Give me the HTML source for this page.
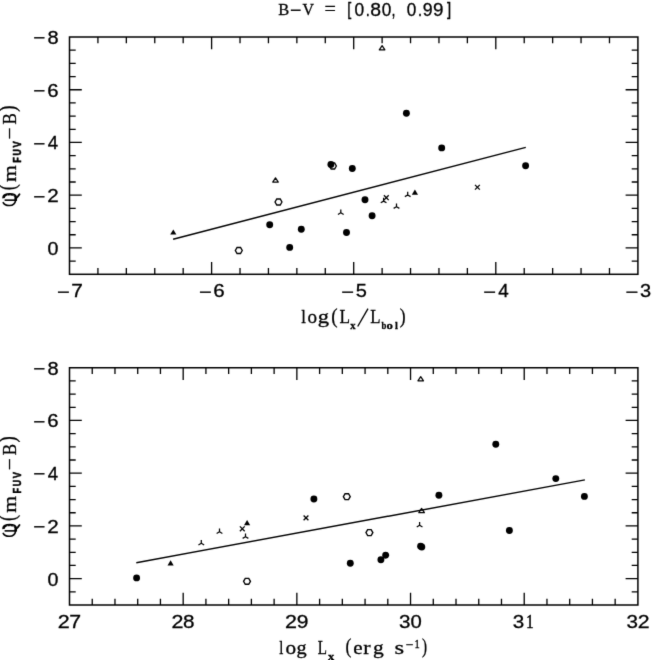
<!DOCTYPE html>
<html><head><meta charset="utf-8"><style>
html,body{margin:0;padding:0;background:#fff;}
body{width:652px;height:660px;overflow:hidden;}
svg{display:block;}
text{fill:#000;}
svg{-webkit-font-smoothing:antialiased;}
#w{will-change:transform;width:652px;height:660px;}
</style></head><body><div id="w">
<svg width="652" height="660" viewBox="0 0 652 660">
<defs><filter id="bl" x="0" y="0" width="652" height="660" filterUnits="userSpaceOnUse"><feConvolveMatrix order="3" kernelMatrix="0.0100 0.0800 0.0100 0.0800 0.6400 0.0800 0.0100 0.0800 0.0100" edgeMode="duplicate" preserveAlpha="false"/></filter></defs>
<rect width="652" height="660" fill="#fff"/>
<g filter="url(#bl)">
<text transform="translate(278.13,15.30) scale(0.968,1)" font-family="Liberation Serif" font-weight="normal" font-size="17.00" stroke="#000" stroke-width="0.3">B</text>
<text transform="translate(290.05,15.60) scale(1.087,1)" font-family="Liberation Sans" font-weight="normal" font-size="17.80" stroke="#000" stroke-width="0.3">−</text>
<text transform="translate(302.62,15.30) scale(0.933,1)" font-family="Liberation Serif" font-weight="normal" font-size="17.00" stroke="#000" stroke-width="0.3">V</text>
<text transform="translate(324.49,15.20) scale(1.135,1)" font-family="Liberation Serif" font-weight="normal" font-size="17.80" stroke="#000" stroke-width="0.3">=</text>
<text transform="translate(347.26,15.40) scale(0.820,1)" font-family="Liberation Sans" font-weight="normal" font-size="17.80" stroke="#000" stroke-width="0.3">[</text>
<text transform="translate(354.42,15.70) scale(0.975,1)" font-family="Liberation Sans" font-weight="normal" font-size="17.80" stroke="#000" stroke-width="0.3">0</text>
<text transform="translate(365.76,15.70) scale(0.826,1)" font-family="Liberation Sans" font-weight="normal" font-size="17.80" stroke="#000" stroke-width="0.3">.</text>
<text transform="translate(370.36,15.70) scale(1.090,1)" font-family="Liberation Sans" font-weight="normal" font-size="17.80" stroke="#000" stroke-width="0.3">8</text>
<text transform="translate(381.83,15.70) scale(0.964,1)" font-family="Liberation Sans" font-weight="normal" font-size="17.80" stroke="#000" stroke-width="0.3">0</text>
<text transform="translate(391.62,15.70) scale(0.801,1)" font-family="Liberation Sans" font-weight="normal" font-size="17.80" stroke="#000" stroke-width="0.3">,</text>
<text transform="translate(406.83,15.70) scale(0.964,1)" font-family="Liberation Sans" font-weight="normal" font-size="17.80" stroke="#000" stroke-width="0.3">0</text>
<text transform="translate(418.06,15.70) scale(0.826,1)" font-family="Liberation Sans" font-weight="normal" font-size="17.80" stroke="#000" stroke-width="0.3">.</text>
<text transform="translate(422.77,15.70) scale(0.997,1)" font-family="Liberation Sans" font-weight="normal" font-size="17.80" stroke="#000" stroke-width="0.3">9</text>
<text transform="translate(433.12,15.70) scale(1.058,1)" font-family="Liberation Sans" font-weight="normal" font-size="17.80" stroke="#000" stroke-width="0.3">9</text>
<text transform="translate(446.98,15.40) scale(0.848,1)" font-family="Liberation Sans" font-weight="normal" font-size="17.80" stroke="#000" stroke-width="0.3">]</text>
<path d="M97.92,274.30v-6.2M97.92,37.00v6.2M126.34,274.30v-6.2M126.34,37.00v6.2M154.76,274.30v-6.2M154.76,37.00v6.2M183.18,274.30v-6.2M183.18,37.00v6.2M211.60,274.30v-12.3M211.60,37.00v12.3M240.02,274.30v-6.2M240.02,37.00v6.2M268.44,274.30v-6.2M268.44,37.00v6.2M296.86,274.30v-6.2M296.86,37.00v6.2M325.28,274.30v-6.2M325.28,37.00v6.2M353.70,274.30v-12.3M353.70,37.00v12.3M382.12,274.30v-6.2M382.12,37.00v6.2M410.54,274.30v-6.2M410.54,37.00v6.2M438.96,274.30v-6.2M438.96,37.00v6.2M467.38,274.30v-6.2M467.38,37.00v6.2M495.80,274.30v-12.3M495.80,37.00v12.3M524.22,274.30v-6.2M524.22,37.00v6.2M552.64,274.30v-6.2M552.64,37.00v6.2M581.06,274.30v-6.2M581.06,37.00v6.2M609.48,274.30v-6.2M609.48,37.00v6.2M69.50,50.18h6.2M637.90,50.18h-6.2M69.50,63.37h6.2M637.90,63.37h-6.2M69.50,76.55h6.2M637.90,76.55h-6.2M69.50,89.73h12.3M637.90,89.73h-12.3M69.50,102.92h6.2M637.90,102.92h-6.2M69.50,116.10h6.2M637.90,116.10h-6.2M69.50,129.28h6.2M637.90,129.28h-6.2M69.50,142.47h12.3M637.90,142.47h-12.3M69.50,155.65h6.2M637.90,155.65h-6.2M69.50,168.83h6.2M637.90,168.83h-6.2M69.50,182.02h6.2M637.90,182.02h-6.2M69.50,195.20h12.3M637.90,195.20h-12.3M69.50,208.38h6.2M637.90,208.38h-6.2M69.50,221.57h6.2M637.90,221.57h-6.2M69.50,234.75h6.2M637.90,234.75h-6.2M69.50,247.93h12.3M637.90,247.93h-12.3M69.50,261.12h6.2M637.90,261.12h-6.2" stroke="#000" stroke-width="1.3" fill="none"/>
<rect x="69.5" y="37.0" width="568.40" height="237.30" fill="none" stroke="#000" stroke-width="1.5"/>
<text transform="translate(33.18,44.30) scale(1.131,1)" font-family="Liberation Sans" font-weight="normal" font-size="18.20" stroke="#000" stroke-width="0.3">−</text>
<text transform="translate(47.43,43.90) scale(1.054,1)" font-family="Liberation Sans" font-weight="normal" font-size="19.00" stroke="#000" stroke-width="0.3">8</text>
<text transform="translate(33.18,97.03) scale(1.131,1)" font-family="Liberation Sans" font-weight="normal" font-size="18.20" stroke="#000" stroke-width="0.3">−</text>
<text transform="translate(47.27,96.63) scale(1.119,1)" font-family="Liberation Sans" font-weight="normal" font-size="18.20" stroke="#000" stroke-width="0.3">6</text>
<text transform="translate(33.18,149.77) scale(1.131,1)" font-family="Liberation Sans" font-weight="normal" font-size="18.20" stroke="#000" stroke-width="0.3">−</text>
<text transform="translate(47.87,149.37) scale(1.025,1)" font-family="Liberation Sans" font-weight="normal" font-size="18.20" stroke="#000" stroke-width="0.3">4</text>
<text transform="translate(33.18,202.50) scale(1.131,1)" font-family="Liberation Sans" font-weight="normal" font-size="18.20" stroke="#000" stroke-width="0.3">−</text>
<text transform="translate(47.26,202.10) scale(1.134,1)" font-family="Liberation Sans" font-weight="normal" font-size="18.20" stroke="#000" stroke-width="0.3">2</text>
<text transform="translate(47.53,254.83) scale(1.080,1)" font-family="Liberation Sans" font-weight="normal" font-size="18.20" stroke="#000" stroke-width="0.3">0</text>
<text transform="translate(57.02,298.00) scale(1.212,1)" font-family="Liberation Sans" font-weight="normal" font-size="18.00" stroke="#000" stroke-width="0.3">−</text>
<text transform="translate(71.23,297.30) scale(1.161,1)" font-family="Liberation Sans" font-weight="normal" font-size="18.00" stroke="#000" stroke-width="0.3">7</text>
<text transform="translate(199.12,298.00) scale(1.212,1)" font-family="Liberation Sans" font-weight="normal" font-size="18.00" stroke="#000" stroke-width="0.3">−</text>
<text transform="translate(213.35,297.30) scale(1.144,1)" font-family="Liberation Sans" font-weight="normal" font-size="18.00" stroke="#000" stroke-width="0.3">6</text>
<text transform="translate(341.22,298.00) scale(1.212,1)" font-family="Liberation Sans" font-weight="normal" font-size="18.00" stroke="#000" stroke-width="0.3">−</text>
<text transform="translate(355.70,297.30) scale(1.113,1)" font-family="Liberation Sans" font-weight="normal" font-size="18.00" stroke="#000" stroke-width="0.3">5</text>
<text transform="translate(483.32,298.00) scale(1.212,1)" font-family="Liberation Sans" font-weight="normal" font-size="18.00" stroke="#000" stroke-width="0.3">−</text>
<text transform="translate(498.17,297.30) scale(1.047,1)" font-family="Liberation Sans" font-weight="normal" font-size="18.00" stroke="#000" stroke-width="0.3">4</text>
<text transform="translate(625.42,298.00) scale(1.212,1)" font-family="Liberation Sans" font-weight="normal" font-size="18.00" stroke="#000" stroke-width="0.3">−</text>
<text transform="translate(639.94,297.30) scale(1.113,1)" font-family="Liberation Sans" font-weight="normal" font-size="18.00" stroke="#000" stroke-width="0.3">3</text>
<g transform="translate(0,155.65)" fill="none" stroke="#000" stroke-width="1.6" stroke-linecap="round"><path d="M3.6,42.6 C3.2,39.6 6.2,38.6 9.6,38.6 C13,38.6 15.6,39.4 15.8,41.8 L15.7,45.2" stroke-width="2.6" stroke-linecap="butt"/><path d="M7.3,40.3 h0.01 M10.2,40.3 h0.01 M13.1,40.3 h0.01" stroke-width="1.0" stroke="#fff"/><path d="M4.6,44.5 H15" stroke-width="1.6" stroke-linecap="butt"/><path d="M3.2,47 C4.5,49.5 7,50 9.6,49.9 C12.6,49.8 15,48.4 15.6,45"/><path d="M15.6,43 C17,42 18.4,40.4 19.5,38.6" stroke-width="1.8"/></g>
<g transform="translate(16,155.65) rotate(-90)">
<text transform="translate(-34.69,-0.80) scale(0.796,1)" font-family="Liberation Serif" font-weight="normal" font-size="22.50" stroke="#000" stroke-width="0.3">(</text>
<text transform="translate(-26.45,0.00) scale(1.107,1)" font-family="Liberation Serif" font-weight="normal" font-size="19.50" stroke="#000" stroke-width="0.3">m</text>
<text transform="translate(-7.11,4.70) scale(0.824,1)" font-family="Liberation Sans" font-weight="bold" font-size="11.00" stroke="#000" stroke-width="0.55">F</text>
<text transform="translate(0.07,4.70) scale(0.802,1)" font-family="Liberation Sans" font-weight="bold" font-size="11.00" stroke="#000" stroke-width="0.55">U</text>
<text transform="translate(8.04,4.70) scale(0.835,1)" font-family="Liberation Sans" font-weight="bold" font-size="11.00" stroke="#000" stroke-width="0.55">V</text>
<text transform="translate(16.13,0.00) scale(1.102,1)" font-family="Liberation Serif" font-weight="normal" font-size="19.50" stroke="#000" stroke-width="0.3">−</text>
<text transform="translate(31.11,0.00) scale(0.870,1)" font-family="Liberation Serif" font-weight="normal" font-size="19.50" stroke="#000" stroke-width="0.3">B</text>
<text transform="translate(43.80,-0.80) scale(0.831,1)" font-family="Liberation Serif" font-weight="normal" font-size="22.50" stroke="#000" stroke-width="0.3">)</text>
</g>
<path d="M92.24,605.00v-6.2M92.24,367.75v6.2M114.97,605.00v-6.2M114.97,367.75v6.2M137.71,605.00v-6.2M137.71,367.75v6.2M160.44,605.00v-6.2M160.44,367.75v6.2M183.18,605.00v-12.3M183.18,367.75v12.3M205.92,605.00v-6.2M205.92,367.75v6.2M228.65,605.00v-6.2M228.65,367.75v6.2M251.39,605.00v-6.2M251.39,367.75v6.2M274.12,605.00v-6.2M274.12,367.75v6.2M296.86,605.00v-12.3M296.86,367.75v12.3M319.60,605.00v-6.2M319.60,367.75v6.2M342.33,605.00v-6.2M342.33,367.75v6.2M365.07,605.00v-6.2M365.07,367.75v6.2M387.80,605.00v-6.2M387.80,367.75v6.2M410.54,605.00v-12.3M410.54,367.75v12.3M433.28,605.00v-6.2M433.28,367.75v6.2M456.01,605.00v-6.2M456.01,367.75v6.2M478.75,605.00v-6.2M478.75,367.75v6.2M501.48,605.00v-6.2M501.48,367.75v6.2M524.22,605.00v-12.3M524.22,367.75v12.3M546.96,605.00v-6.2M546.96,367.75v6.2M569.69,605.00v-6.2M569.69,367.75v6.2M592.43,605.00v-6.2M592.43,367.75v6.2M615.16,605.00v-6.2M615.16,367.75v6.2M69.50,380.93h6.2M637.90,380.93h-6.2M69.50,394.11h6.2M637.90,394.11h-6.2M69.50,407.29h6.2M637.90,407.29h-6.2M69.50,420.47h12.3M637.90,420.47h-12.3M69.50,433.65h6.2M637.90,433.65h-6.2M69.50,446.83h6.2M637.90,446.83h-6.2M69.50,460.01h6.2M637.90,460.01h-6.2M69.50,473.19h12.3M637.90,473.19h-12.3M69.50,486.38h6.2M637.90,486.38h-6.2M69.50,499.56h6.2M637.90,499.56h-6.2M69.50,512.74h6.2M637.90,512.74h-6.2M69.50,525.92h12.3M637.90,525.92h-12.3M69.50,539.10h6.2M637.90,539.10h-6.2M69.50,552.28h6.2M637.90,552.28h-6.2M69.50,565.46h6.2M637.90,565.46h-6.2M69.50,578.64h12.3M637.90,578.64h-12.3M69.50,591.82h6.2M637.90,591.82h-6.2" stroke="#000" stroke-width="1.3" fill="none"/>
<rect x="69.5" y="367.75" width="568.40" height="237.25" fill="none" stroke="#000" stroke-width="1.5"/>
<text transform="translate(33.18,375.05) scale(1.131,1)" font-family="Liberation Sans" font-weight="normal" font-size="18.20" stroke="#000" stroke-width="0.3">−</text>
<text transform="translate(47.43,374.65) scale(1.054,1)" font-family="Liberation Sans" font-weight="normal" font-size="19.00" stroke="#000" stroke-width="0.3">8</text>
<text transform="translate(33.18,427.77) scale(1.131,1)" font-family="Liberation Sans" font-weight="normal" font-size="18.20" stroke="#000" stroke-width="0.3">−</text>
<text transform="translate(47.27,427.37) scale(1.119,1)" font-family="Liberation Sans" font-weight="normal" font-size="18.20" stroke="#000" stroke-width="0.3">6</text>
<text transform="translate(33.18,480.49) scale(1.131,1)" font-family="Liberation Sans" font-weight="normal" font-size="18.20" stroke="#000" stroke-width="0.3">−</text>
<text transform="translate(47.87,480.09) scale(1.025,1)" font-family="Liberation Sans" font-weight="normal" font-size="18.20" stroke="#000" stroke-width="0.3">4</text>
<text transform="translate(33.18,533.22) scale(1.131,1)" font-family="Liberation Sans" font-weight="normal" font-size="18.20" stroke="#000" stroke-width="0.3">−</text>
<text transform="translate(47.26,532.82) scale(1.134,1)" font-family="Liberation Sans" font-weight="normal" font-size="18.20" stroke="#000" stroke-width="0.3">2</text>
<text transform="translate(47.53,585.54) scale(1.080,1)" font-family="Liberation Sans" font-weight="normal" font-size="18.20" stroke="#000" stroke-width="0.3">0</text>
<text transform="translate(57.72,628.00) scale(1.195,1)" font-family="Liberation Sans" font-weight="normal" font-size="18.00" stroke="#000" stroke-width="0.3">2</text>
<text transform="translate(69.21,628.00) scale(1.185,1)" font-family="Liberation Sans" font-weight="normal" font-size="18.00" stroke="#000" stroke-width="0.3">7</text>
<text transform="translate(171.40,628.00) scale(1.195,1)" font-family="Liberation Sans" font-weight="normal" font-size="18.00" stroke="#000" stroke-width="0.3">2</text>
<text transform="translate(183.08,628.00) scale(1.148,1)" font-family="Liberation Sans" font-weight="normal" font-size="18.00" stroke="#000" stroke-width="0.3">8</text>
<text transform="translate(285.08,628.00) scale(1.195,1)" font-family="Liberation Sans" font-weight="normal" font-size="18.00" stroke="#000" stroke-width="0.3">2</text>
<text transform="translate(296.68,628.00) scale(1.167,1)" font-family="Liberation Sans" font-weight="normal" font-size="18.00" stroke="#000" stroke-width="0.3">9</text>
<text transform="translate(399.05,628.00) scale(1.148,1)" font-family="Liberation Sans" font-weight="normal" font-size="18.00" stroke="#000" stroke-width="0.3">3</text>
<text transform="translate(410.55,628.00) scale(1.127,1)" font-family="Liberation Sans" font-weight="normal" font-size="18.00" stroke="#000" stroke-width="0.3">0</text>
<text transform="translate(512.73,628.00) scale(1.148,1)" font-family="Liberation Sans" font-weight="normal" font-size="18.00" stroke="#000" stroke-width="0.3">3</text>
<text transform="translate(526.25,628.00) scale(0.781,1)" font-family="Liberation Serif" font-weight="normal" font-size="18.54" stroke="#000" stroke-width="0.6">1</text>
<text transform="translate(626.41,628.00) scale(1.148,1)" font-family="Liberation Sans" font-weight="normal" font-size="18.00" stroke="#000" stroke-width="0.3">3</text>
<text transform="translate(637.63,628.00) scale(1.183,1)" font-family="Liberation Sans" font-weight="normal" font-size="18.00" stroke="#000" stroke-width="0.3">2</text>
<g transform="translate(0,486.38)" fill="none" stroke="#000" stroke-width="1.6" stroke-linecap="round"><path d="M3.6,42.6 C3.2,39.6 6.2,38.6 9.6,38.6 C13,38.6 15.6,39.4 15.8,41.8 L15.7,45.2" stroke-width="2.6" stroke-linecap="butt"/><path d="M7.3,40.3 h0.01 M10.2,40.3 h0.01 M13.1,40.3 h0.01" stroke-width="1.0" stroke="#fff"/><path d="M4.6,44.5 H15" stroke-width="1.6" stroke-linecap="butt"/><path d="M3.2,47 C4.5,49.5 7,50 9.6,49.9 C12.6,49.8 15,48.4 15.6,45"/><path d="M15.6,43 C17,42 18.4,40.4 19.5,38.6" stroke-width="1.8"/></g>
<g transform="translate(16,486.38) rotate(-90)">
<text transform="translate(-34.69,-0.80) scale(0.796,1)" font-family="Liberation Serif" font-weight="normal" font-size="22.50" stroke="#000" stroke-width="0.3">(</text>
<text transform="translate(-26.45,0.00) scale(1.107,1)" font-family="Liberation Serif" font-weight="normal" font-size="19.50" stroke="#000" stroke-width="0.3">m</text>
<text transform="translate(-7.11,4.70) scale(0.824,1)" font-family="Liberation Sans" font-weight="bold" font-size="11.00" stroke="#000" stroke-width="0.55">F</text>
<text transform="translate(0.07,4.70) scale(0.802,1)" font-family="Liberation Sans" font-weight="bold" font-size="11.00" stroke="#000" stroke-width="0.55">U</text>
<text transform="translate(8.04,4.70) scale(0.835,1)" font-family="Liberation Sans" font-weight="bold" font-size="11.00" stroke="#000" stroke-width="0.55">V</text>
<text transform="translate(16.13,0.00) scale(1.102,1)" font-family="Liberation Serif" font-weight="normal" font-size="19.50" stroke="#000" stroke-width="0.3">−</text>
<text transform="translate(31.11,0.00) scale(0.870,1)" font-family="Liberation Serif" font-weight="normal" font-size="19.50" stroke="#000" stroke-width="0.3">B</text>
<text transform="translate(43.80,-0.80) scale(0.831,1)" font-family="Liberation Serif" font-weight="normal" font-size="22.50" stroke="#000" stroke-width="0.3">)</text>
</g>
<text transform="translate(301.36,323.30) scale(0.872,1)" font-family="Liberation Serif" font-weight="normal" font-size="19.30" stroke="#000" stroke-width="0.3">l</text>
<text transform="translate(307.47,323.30) scale(0.990,1)" font-family="Liberation Serif" font-weight="normal" font-size="19.30" stroke="#000" stroke-width="0.3">o</text>
<text transform="translate(317.83,323.30) scale(1.171,1)" font-family="Liberation Serif" font-weight="normal" font-size="19.30" stroke="#000" stroke-width="0.3">g</text>
<text transform="translate(331.26,322.70) scale(0.931,1)" font-family="Liberation Serif" font-weight="normal" font-size="20.50" stroke="#000" stroke-width="0.3">(</text>
<text transform="translate(339.60,323.30) scale(0.893,1)" font-family="Liberation Serif" font-weight="normal" font-size="19.30" stroke="#000" stroke-width="0.3">L</text>
<text transform="translate(350.26,328.80) scale(0.938,1)" font-family="Liberation Serif" font-weight="bold" font-size="11.30" stroke="#000" stroke-width="0.3">x</text>
<line x1="357.7" y1="326.5" x2="368.0" y2="308.6" stroke="#000" stroke-width="1.35"/>
<text transform="translate(370.21,323.30) scale(0.874,1)" font-family="Liberation Serif" font-weight="normal" font-size="19.30" stroke="#000" stroke-width="0.3">L</text>
<text transform="translate(381.39,328.70) scale(0.781,1)" font-family="Liberation Serif" font-weight="bold" font-size="11.20" stroke="#000" stroke-width="0.3">b</text>
<text transform="translate(386.51,328.70) scale(1.138,1)" font-family="Liberation Serif" font-weight="bold" font-size="11.20" stroke="#000" stroke-width="0.3">o</text>
<text transform="translate(394.90,328.70) scale(0.925,1)" font-family="Liberation Serif" font-weight="bold" font-size="11.20" stroke="#000" stroke-width="0.3">l</text>
<text transform="translate(399.64,322.70) scale(0.855,1)" font-family="Liberation Serif" font-weight="normal" font-size="20.50" stroke="#000" stroke-width="0.3">)</text>
<text transform="translate(279.21,653.70) scale(0.763,1)" font-family="Liberation Serif" font-weight="normal" font-size="19.30" stroke="#000" stroke-width="0.3">l</text>
<text transform="translate(285.49,653.70) scale(1.100,1)" font-family="Liberation Serif" font-weight="normal" font-size="19.30" stroke="#000" stroke-width="0.3">o</text>
<text transform="translate(296.53,653.70) scale(1.053,1)" font-family="Liberation Serif" font-weight="normal" font-size="19.30" stroke="#000" stroke-width="0.3">g</text>
<text transform="translate(317.76,653.70) scale(0.784,1)" font-family="Liberation Serif" font-weight="normal" font-size="19.30" stroke="#000" stroke-width="0.3">L</text>
<text transform="translate(327.95,659.70) scale(1.100,1)" font-family="Liberation Serif" font-weight="bold" font-size="11.30" stroke="#000" stroke-width="0.3">x</text>
<text transform="translate(345.53,653.20) scale(0.834,1)" font-family="Liberation Serif" font-weight="normal" font-size="21.00" stroke="#000" stroke-width="0.3">(</text>
<text transform="translate(353.28,653.70) scale(1.092,1)" font-family="Liberation Serif" font-weight="normal" font-size="19.30" stroke="#000" stroke-width="0.3">e</text>
<text transform="translate(363.26,653.70) scale(1.141,1)" font-family="Liberation Serif" font-weight="normal" font-size="19.30" stroke="#000" stroke-width="0.3">r</text>
<text transform="translate(373.08,653.70) scale(1.112,1)" font-family="Liberation Serif" font-weight="normal" font-size="19.30" stroke="#000" stroke-width="0.3">g</text>
<text transform="translate(394.49,653.70) scale(1.279,1)" font-family="Liberation Serif" font-weight="normal" font-size="19.30" stroke="#000" stroke-width="0.3">s</text>
<text transform="translate(405.53,649.20) scale(1.083,1)" font-family="Liberation Serif" font-weight="normal" font-size="12.50" stroke="#000" stroke-width="0.3">−</text>
<text transform="translate(414.38,648.10) scale(0.841,1)" font-family="Liberation Serif" font-weight="normal" font-size="12.50" stroke="#000" stroke-width="0.3">1</text>
<text transform="translate(421.91,653.20) scale(0.723,1)" font-family="Liberation Serif" font-weight="normal" font-size="21.00" stroke="#000" stroke-width="0.3">)</text>
<line x1="173.1" y1="239.3" x2="525.8" y2="147.4" stroke="#000" stroke-width="1.4" stroke-linecap="butt"/>
<polygon points="173.30,229.50 170.20,234.60 176.40,234.60" fill="#000"/>
<polygon points="242.25,250.50 240.53,253.49 237.08,253.49 235.35,250.50 237.08,247.51 240.53,247.51" fill="none" stroke="#000" stroke-width="1.35"/>
<circle cx="269.7" cy="224.7" r="3.45" fill="#000"/>
<polygon points="275.50,177.85 272.70,182.05 278.30,182.05" fill="none" stroke="#000" stroke-width="1.2" stroke-linejoin="round"/>
<polygon points="281.95,202.00 280.23,204.99 276.77,204.99 275.05,202.00 276.77,199.01 280.23,199.01" fill="none" stroke="#000" stroke-width="1.35"/>
<circle cx="289.7" cy="247.4" r="3.45" fill="#000"/>
<circle cx="301.3" cy="229.3" r="3.45" fill="#000"/>
<polygon points="336.35,166.00 334.62,168.99 331.17,168.99 329.45,166.00 331.17,163.01 334.62,163.01" fill="none" stroke="#000" stroke-width="1.35"/>
<circle cx="330.9" cy="164.5" r="3.45" fill="#000"/>
<circle cx="352.3" cy="168.5" r="3.45" fill="#000"/>
<path d="M340.80,212.80L340.80,209.50M340.80,212.80L337.94,214.45M340.80,212.80L343.66,214.45" stroke="#000" stroke-width="1.25" fill="none"/>
<circle cx="346.5" cy="232.5" r="3.45" fill="#000"/>
<circle cx="365.0" cy="199.8" r="3.45" fill="#000"/>
<circle cx="372.1" cy="215.8" r="3.45" fill="#000"/>
<path d="M383.90,195.30L388.70,200.10M383.90,200.10L388.70,195.30" stroke="#000" stroke-width="1.3" fill="none"/>
<path d="M383.60,201.10L383.60,197.80M383.60,201.10L380.74,202.75M383.60,201.10L386.46,202.75" stroke="#000" stroke-width="1.25" fill="none"/>
<path d="M396.50,206.70L396.50,203.40M396.50,206.70L393.64,208.35M396.50,206.70L399.36,208.35" stroke="#000" stroke-width="1.25" fill="none"/>
<path d="M407.70,195.00L407.70,191.70M407.70,195.00L404.84,196.65M407.70,195.00L410.56,196.65" stroke="#000" stroke-width="1.25" fill="none"/>
<polygon points="414.90,189.60 411.80,194.70 418.00,194.70" fill="#000"/>
<polygon points="382.10,45.65 379.30,49.85 384.90,49.85" fill="none" stroke="#000" stroke-width="1.2" stroke-linejoin="round"/>
<circle cx="406.4" cy="113.3" r="3.45" fill="#000"/>
<circle cx="441.7" cy="147.9" r="3.45" fill="#000"/>
<path d="M475.00,184.85L479.80,189.65M475.00,189.65L479.80,184.85" stroke="#000" stroke-width="1.3" fill="none"/>
<circle cx="525.6" cy="165.7" r="3.45" fill="#000"/>
<line x1="136.3" y1="562.7" x2="584.9" y2="479.9" stroke="#000" stroke-width="1.4" stroke-linecap="butt"/>
<circle cx="136.6" cy="577.9" r="3.45" fill="#000"/>
<polygon points="170.60,560.30 167.50,565.40 173.70,565.40" fill="#000"/>
<path d="M201.30,543.30L201.30,540.00M201.30,543.30L198.44,544.95M201.30,543.30L204.16,544.95" stroke="#000" stroke-width="1.25" fill="none"/>
<path d="M219.50,531.80L219.50,528.50M219.50,531.80L216.64,533.45M219.50,531.80L222.36,533.45" stroke="#000" stroke-width="1.25" fill="none"/>
<path d="M239.90,526.40L244.70,531.20M239.90,531.20L244.70,526.40" stroke="#000" stroke-width="1.3" fill="none"/>
<polygon points="247.10,520.10 244.00,525.20 250.20,525.20" fill="#000"/>
<path d="M245.50,536.70L245.50,533.40M245.50,536.70L242.64,538.35M245.50,536.70L248.36,538.35" stroke="#000" stroke-width="1.25" fill="none"/>
<polygon points="250.45,581.30 248.72,584.29 245.28,584.29 243.55,581.30 245.28,578.31 248.72,578.31" fill="none" stroke="#000" stroke-width="1.35"/>
<circle cx="313.9" cy="499.0" r="3.45" fill="#000"/>
<polygon points="350.25,496.70 348.53,499.69 345.07,499.69 343.35,496.70 345.07,493.71 348.53,493.71" fill="none" stroke="#000" stroke-width="1.35"/>
<path d="M303.60,515.50L308.40,520.30M303.60,520.30L308.40,515.50" stroke="#000" stroke-width="1.3" fill="none"/>
<polygon points="372.85,532.60 371.12,535.59 367.67,535.59 365.95,532.60 367.67,529.61 371.12,529.61" fill="none" stroke="#000" stroke-width="1.35"/>
<circle cx="350.3" cy="563.2" r="3.45" fill="#000"/>
<circle cx="380.9" cy="559.8" r="3.45" fill="#000"/>
<circle cx="385.7" cy="555.2" r="3.45" fill="#000"/>
<polygon points="420.70,376.65 417.90,380.85 423.50,380.85" fill="none" stroke="#000" stroke-width="1.2" stroke-linejoin="round"/>
<circle cx="438.9" cy="495.3" r="3.45" fill="#000"/>
<polygon points="421.60,508.45 418.80,512.65 424.40,512.65" fill="none" stroke="#000" stroke-width="1.2" stroke-linejoin="round"/>
<path d="M419.60,525.30L419.60,522.00M419.60,525.30L416.74,526.95M419.60,525.30L422.46,526.95" stroke="#000" stroke-width="1.25" fill="none"/>
<circle cx="420.6" cy="546.2" r="3.45" fill="#000"/>
<circle cx="421.8" cy="547.0" r="3.45" fill="#000"/>
<circle cx="495.8" cy="444.2" r="3.45" fill="#000"/>
<circle cx="555.8" cy="478.6" r="3.45" fill="#000"/>
<circle cx="584.4" cy="496.4" r="3.45" fill="#000"/>
<circle cx="509.4" cy="530.5" r="3.45" fill="#000"/>
</g>
</svg>
</div></body></html>
